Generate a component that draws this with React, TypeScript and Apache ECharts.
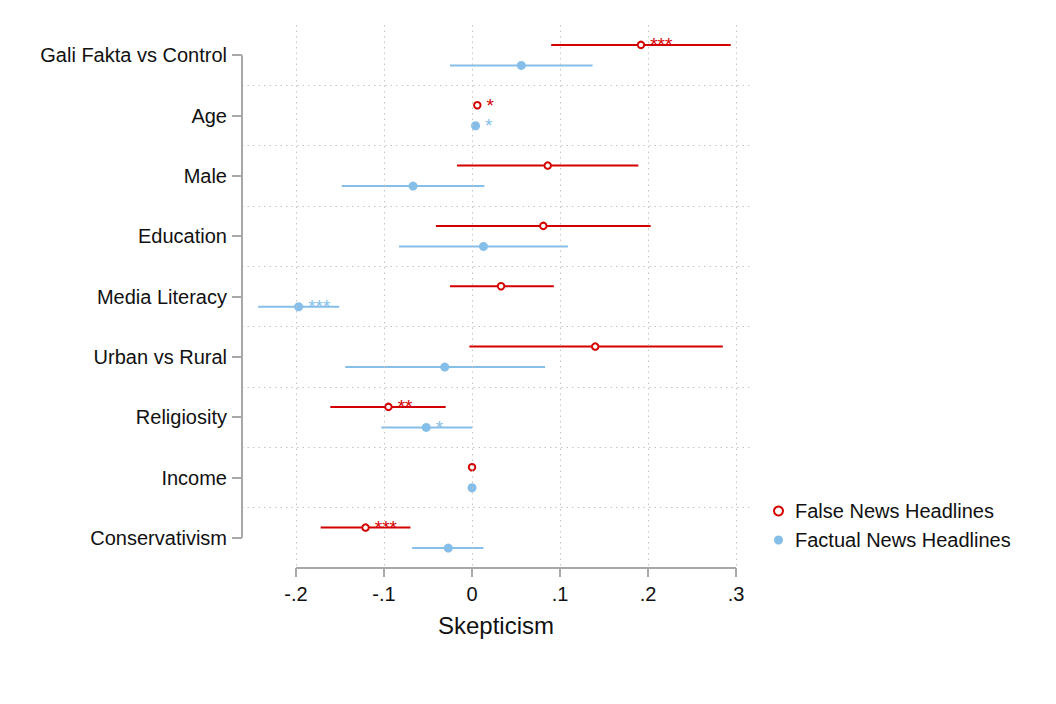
import React, { useEffect, useRef } from "react";
import * as echarts from "echarts";

const categories = [
  "Gali Fakta vs Control",
  "Age",
  "Male",
  "Education",
  "Media Literacy",
  "Urban vs Rural",
  "Religiosity",
  "Income",
  "Conservativism",
];

const falseCoef = [0.192, 0.006, 0.086, 0.081, 0.033, 0.140, -0.095, 0.0, -0.121];
const falseLo = [0.090, 0.005, -0.017, -0.041, -0.025, -0.003, -0.161, -0.0005, -0.172];
const falseHi = [0.294, 0.007, 0.189, 0.203, 0.093, 0.285, -0.030, 0.0005, -0.070];
const falseStars = ["***", "*", "", "", "", "", "**", "", "***"];

const factCoef = [0.056, 0.004, -0.067, 0.013, -0.197, -0.031, -0.052, 0.0, -0.027];
const factLo = [-0.025, 0.003, -0.148, -0.083, -0.243, -0.144, -0.103, -0.0005, -0.068];
const factHi = [0.137, 0.005, 0.014, 0.109, -0.151, 0.083, 0.0, 0.0005, 0.013];
const factStars = ["", "*", "", "", "***", "", "*", "", ""];

const xTicks = [-0.2, -0.1, 0, 0.1, 0.2, 0.3];
const xMin = -0.2614;
const xMax = 0.3159;

const RED = "#d40000";
const BLUE = "#85bfe9";
const AXIS_GRAY = "#a8a8a8";
const GRID_GRAY = "#c4c4c4";
const OFFSET = 0.17;

const fmtTick = (v: number) => {
  const t = Math.round(v * 10);
  if (t === 0) return "0";
  return (t < 0 ? "-" : "") + "." + Math.abs(t);
};

export default function App() {
  const ref = useRef<HTMLDivElement>(null);

  useEffect(() => {
    if (!ref.current) return;
    const chart = echarts.init(ref.current, undefined, { renderer: "svg" });

    const falseBars = categories.map((_, i) => [falseLo[i], falseHi[i], i + 1 - OFFSET]);
    const factBars = categories.map((_, i) => [factLo[i], factHi[i], i + 1 + OFFSET]);
    const falsePts = categories.map((_, i) => [falseCoef[i], i + 1 - OFFSET]);
    const factPts = categories.map((_, i) => [factCoef[i], i + 1 + OFFSET]);

    const barRender = (color: string) => (params: any, api: any) => {
      const p1 = api.coord([api.value(0), api.value(2)]);
      const p2 = api.coord([api.value(1), api.value(2)]);
      return {
        type: "line",
        shape: { x1: p1[0], y1: p1[1], x2: p2[0], y2: p2[1] },
        style: { stroke: color, lineWidth: 2 },
      };
    };

    const dotted = { color: GRID_GRAY, width: 1, type: [1.5, 4] as any };
    const solidAxis = { color: AXIS_GRAY, width: 2, type: "solid" as any };

    chart.setOption({
      animation: false,
      textStyle: { fontFamily: "Arial, 'Liberation Sans', sans-serif", color: "#111" },
      grid: { left: 242, right: 306, top: 25, bottom: 136, containLabel: false },
      xAxis: {
        type: "value",
        min: xMin,
        max: xMax,
        axisLine: { show: false },
        splitLine: { show: false },
        axisTick: {
          show: true,
          customValues: xTicks,
          length: 9,
          lineStyle: { color: AXIS_GRAY, width: 2 },
        },
        axisLabel: {
          customValues: xTicks,
          formatter: (v: number) => fmtTick(v),
          fontSize: 20,
          color: "#111",
          margin: 16,
        },
        name: "Skepticism",
        nameLocation: "middle",
        nameGap: 45,
        nameTextStyle: { fontSize: 24, color: "#111" },
      },
      yAxis: [
        {
          type: "value",
          min: 0.5,
          max: 9.5,
          inverse: true,
          show: false,
        },
        {
          type: "category",
          data: categories,
          inverse: true,
          position: "left",
          axisLine: { show: false },
          axisTick: {
            show: true,
            alignWithLabel: true,
            length: 10,
            lineStyle: { color: AXIS_GRAY, width: 2 },
          },
          axisLabel: { fontSize: 20, color: "#111", margin: 15 },
          splitLine: { show: false },
        },
      ],
      legend: {
        orient: "vertical",
        left: 768,
        top: 496,
        icon: "circle",
        itemWidth: 9,
        itemHeight: 9,
        itemGap: 9,
        textStyle: { fontSize: 20, color: "#111", lineHeight: 20, padding: [0, 0, 0, 7] },
        data: ["False News Headlines", "Factual News Headlines"],
      },
      series: [
        {
          type: "custom",
          name: "gridlines",
          xAxisIndex: 0,
          yAxisIndex: 0,
          clip: false,
          silent: true,
          z: 1,
          data: [],
          renderItem: () => null,
          markLine: {
            silent: true,
            symbol: ["none", "none"],
            label: { show: false },
            lineStyle: dotted,
            data: [
              ...xTicks.map((v) => ({ xAxis: v })),
              ...categories.slice(1).map((_, i) => ({ yAxis: i + 1.5 })),
            ],
          },
        },
        {
          type: "custom",
          name: "axes",
          xAxisIndex: 0,
          yAxisIndex: 0,
          clip: false,
          silent: true,
          z: 2,
          data: [],
          renderItem: () => null,
          markLine: {
            silent: true,
            symbol: ["none", "none"],
            label: { show: false },
            lineStyle: solidAxis,
            data: [
              [{ coord: [xMin, 1] }, { coord: [xMin, categories.length] }],
              [{ coord: [xTicks[0], 9.5] }, { coord: [xTicks[xTicks.length - 1], 9.5] }],
            ],
          },
        },
        {
          type: "custom",
          name: "False News Headlines",
          xAxisIndex: 0,
          yAxisIndex: 0,
          clip: false,
          z: 3,
          itemStyle: { color: "#fff", borderColor: RED, borderWidth: 2 },
          renderItem: barRender(RED),
          encode: { x: [0, 1], y: 2 },
          data: falseBars,
        },
        {
          type: "custom",
          name: "Factual News Headlines",
          xAxisIndex: 0,
          yAxisIndex: 0,
          clip: false,
          z: 3,
          itemStyle: { color: BLUE },
          renderItem: barRender(BLUE),
          encode: { x: [0, 1], y: 2 },
          data: factBars,
        },
        {
          type: "scatter",
          name: "False News Headlines",
          xAxisIndex: 0,
          yAxisIndex: 0,
          clip: false,
          z: 4,
          symbol: "circle",
          symbolSize: 6.5,
          itemStyle: { color: "#fff", borderColor: RED, borderWidth: 2, opacity: 1 },
          label: {
            show: true,
            position: "right",
            distance: 5,
            fontSize: 19,
            color: RED,
            formatter: (p: any) => falseStars[p.dataIndex],
          },
          data: falsePts,
        },
        {
          type: "scatter",
          name: "Factual News Headlines",
          xAxisIndex: 0,
          yAxisIndex: 0,
          clip: false,
          z: 4,
          symbol: "circle",
          symbolSize: 9,
          itemStyle: { color: BLUE, opacity: 1 },
          label: {
            show: true,
            position: "right",
            distance: 5,
            fontSize: 19,
            color: BLUE,
            formatter: (p: any) => factStars[p.dataIndex],
          },
          data: factPts,
        },
      ],
    });

    return () => chart.dispose();
  }, []);

  return (
    <div
      ref={ref}
      style={{ position: "fixed", left: 0, top: 0, width: 1056, height: 704, background: "#fff" }}
    />
  );
}
